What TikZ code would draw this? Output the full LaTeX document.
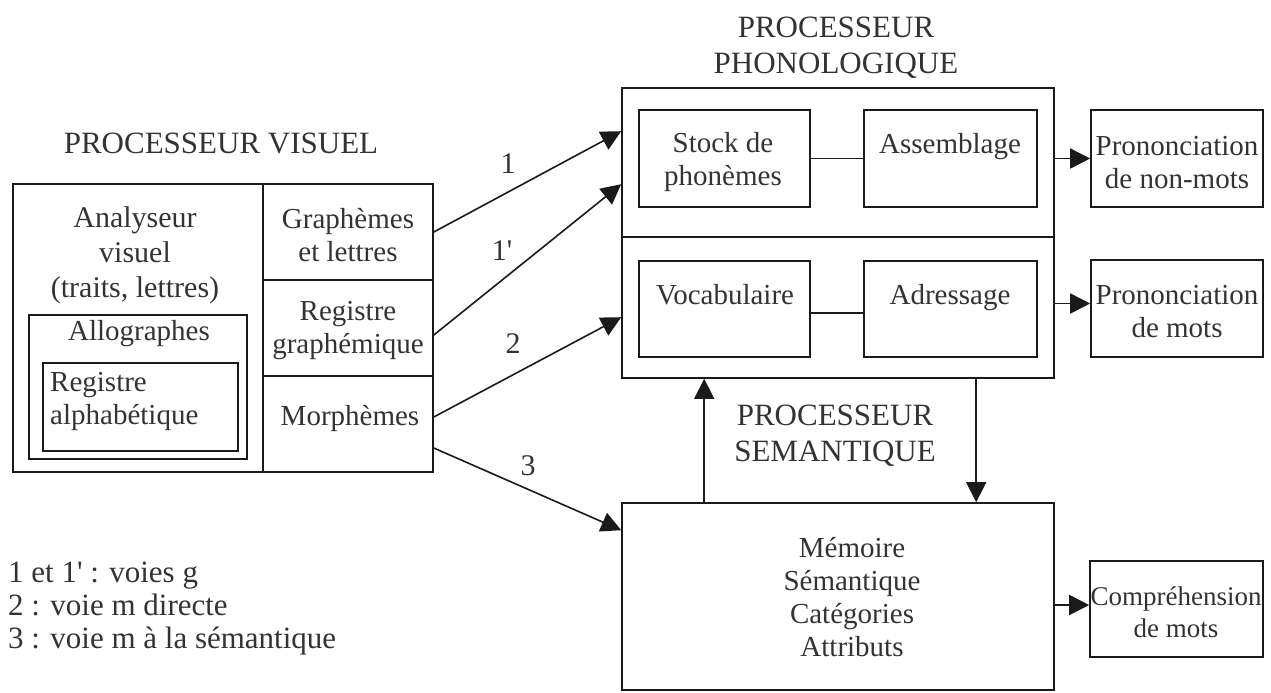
\documentclass[tikz,border=0pt]{standalone}
\usepackage{fontspec}
\setmainfont{Liberation Serif}[Ligatures=TeXOff]
\usetikzlibrary{arrows.meta,calc}
\definecolor{linec}{HTML}{1A1A1A}
\definecolor{textc}{HTML}{333333}
\begin{document}
\begin{tikzpicture}[x=1pt,y=-1pt,
  box/.style={draw=linec,line width=1.6pt,inner sep=0pt,rectangle},
  txt/.style={text=textc,inner sep=0pt,align=center,font=\fontsize{29}{33}\selectfont},
  ttl/.style={text=textc,inner sep=0pt,align=center,font=\fontsize{31}{36}\selectfont},
  lab/.style={text=textc,inner sep=0pt,font=\fontsize{30}{34}\selectfont},
  conn/.style={draw=linec,line width=1.6pt},
  arr/.style={conn,-{Triangle[length=20pt,width=20pt]}}]
\useasboundingbox (0,0) rectangle (1271,693);
% visual processor
\node[ttl,anchor=base] (tvis) at (221,153) {PROCESSEUR VISUEL};
\node[box,minimum width=420,minimum height=288] (vis) at (223,328) {};
\node[box,minimum width=170,minimum height=96] (graph) at (348,232) {};
\node[box,minimum width=170,minimum height=96] (reg) at (348,328) {};
\node[box,minimum width=170,minimum height=96] (morph) at (348,424) {};
\node[box,minimum width=218,minimum height=144] (allo) at (138,387) {};
\node[box,minimum width=195,minimum height=88] (alpha) at (140.5,407) {};
\node[txt,font=\fontsize{30}{35}\selectfont] (tana) at (135,255) {Analyseur\\visuel\\(traits, lettres)};
\node[txt,anchor=base] (tallo) at (139,340) {Allographes};
\node[txt,align=left,anchor=west] (talpha) at (50,401) {Registre\\alphabétique};
\node[txt] (tgraph) at (348,235) {Graphèmes\\et lettres};
\node[txt] (treg) at (348,331) {Registre\\graphémique};
\node[txt,anchor=base] (tmorph) at (350,425) {Morphèmes};
% phonological processor
\node[ttl] (tphon) at (836,48) {PROCESSEUR\\PHONOLOGIQUE};
\node[box,minimum width=432,minimum height=149] (phonA) at (838,162.5) {};
\node[box,minimum width=432,minimum height=141] (phonB) at (838,307.5) {};
\node[box,minimum width=171,minimum height=97] (stock) at (724.5,158.5) {};
\node[box,minimum width=173,minimum height=97] (assem) at (950.5,158.5) {};
\node[box,minimum width=171,minimum height=96] (vocab) at (724.5,309) {};
\node[box,minimum width=173,minimum height=96] (adr) at (950.5,309) {};
\node[txt] (tstock) at (723,162) {Stock de\\phonèmes};
\node[txt,anchor=base] (tassem) at (950,153) {Assemblage};
\node[txt,anchor=base] (tvocab) at (725,304) {Vocabulaire};
\node[txt,anchor=base] (tadr) at (950,304) {Adressage};
\draw[conn] (stock.east) -- (assem.west);
\draw[conn] ($(vocab.east)+(0,4)$) -- ($(adr.west)+(0,4)$);
% outputs
\node[box,minimum width=172,minimum height=97] (out1) at (1177,158.5) {};
\node[box,minimum width=172,minimum height=97] (out2) at (1177,308.5) {};
\node[box,minimum width=173,minimum height=96] (out3) at (1176.5,609) {};
\node[txt] (tout1) at (1177,163) {Prononciation\\de non-mots};
\node[txt] (tout2) at (1177,312) {Prononciation\\de mots};
\node[txt,font=\fontsize{27}{32}\selectfont] (tout3) at (1176,612) {Compréhension\\de mots};
% semantic processor
\node[ttl] (tsem) at (835,436) {PROCESSEUR\\SEMANTIQUE};
\node[box,minimum width=432,minimum height=187] (sem) at (838,596.5) {};
\node[txt] (tmem) at (852,597) {Mémoire\\Sémantique\\Catégories\\Attributs};
% connectors
\draw[arr] (phonA.east |- out1.west) -- (out1.west);
\draw[arr] ($(phonB.east |- out2.west)+(0,-5)$) -- ($(out2.west)+(0,-5)$);
\draw[arr] ($(sem.east |- out3.west)+(0,-4)$) -- ($(out3.west)+(0,-4)$);
\draw[arr] ($(sem.north west)+(83,0)$) -- ($(phonB.south west)+(83,0)$);
\draw[arr] ($(phonB.south west)+(355,0)$) -- ($(sem.north west)+(355,0)$);
\draw[arr] (graph.east) -- ($(phonA.north west)+(0,44)$);
\draw[arr] ($(reg.east)+(0,7)$) -- ($(phonA.north west)+(0,97)$);
\draw[arr] ($(morph.east)+(0,-7)$) -- ($(phonB.north west)+(0,81)$);
\draw[arr] ($(morph.east)+(0,24)$) -- ($(sem.north west)+(0,28)$);
\node[lab] (l1) at (508,164) {1};
\node[lab] (l1p) at (502,251) {1'};
\node[lab] (l2) at (513,344) {2};
\node[lab] (l3) at (528,466) {3};
% legend
\node[lab,align=left,anchor=west,font=\fontsize{31}{33}\selectfont] (leg) at (8,609) {1 et 1' : voies g\\2 : voie m directe\\3 : voie m à la sémantique};
\end{tikzpicture}
\end{document}
